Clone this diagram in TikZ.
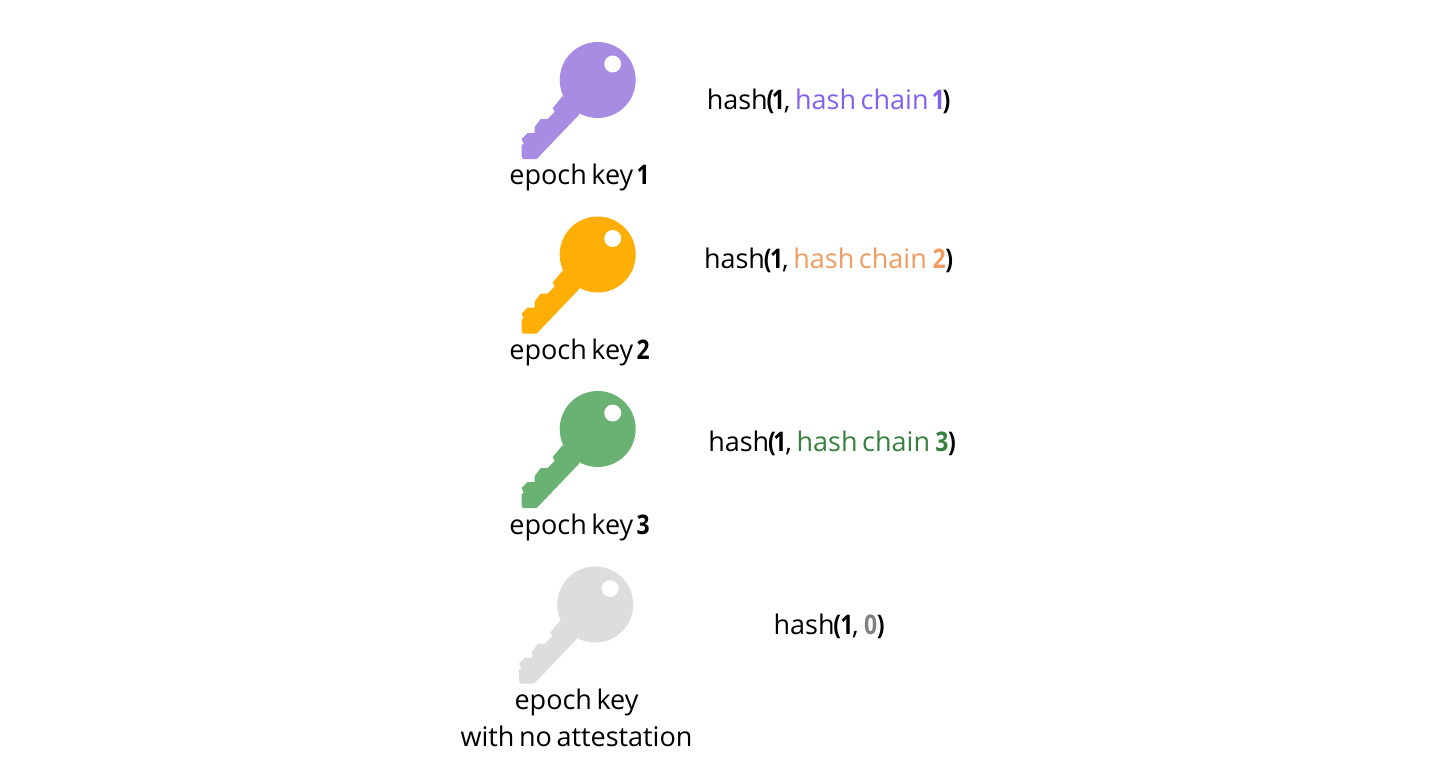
\documentclass[tikz,border=0pt]{standalone}
\usepackage{fontspec}
\setmainfont{Open Sans}
\definecolor{keypurple}{HTML}{A88CE3}
\definecolor{keyorange}{HTML}{FFAE06}
\definecolor{keygreen}{HTML}{69B273}
\definecolor{keygrey}{HTML}{DDDDDD}
\definecolor{txtpurple}{HTML}{8360F0}
\definecolor{txtorange}{HTML}{F29B61}
\definecolor{txtgreen}{HTML}{38803F}
\definecolor{txtgrey}{HTML}{808080}
\newcommand{\bd}[1]{\kern-1.2pt\scalebox{0.85}[1]{\bfseries #1}\kern-1.2pt}
\newcommand{\wsp}{\spaceskip=0.17em\relax}
\tikzset{
  x=1pt,y=-1pt,
  label text/.style={inner sep=0pt,font=\fontsize{27}{36}\selectfont,align=center,text=black,anchor=base},
  pics/epochkey/.style={code={
    \fill[#1] (-35,16) -- (-45,28) -- (-43,32) -- (-50,39) -- (-57,39) -- (-63,47) -- (-63,53) -- (-70,53) -- (-76,59) -- (-74,64) -- (-76,65) -- (-76,76) -- (-75,79) -- (-61,79) -- (-18,34) -- cycle;
    \fill[#1] (0,0) circle (38);
    \fill[white] (15,-16) circle (8.5);
  }}
}
\begin{document}
\begin{tikzpicture}
\useasboundingbox (0,0) rectangle (1448,772);
\pic at (597.7,80) {epochkey=keypurple};
\pic at (597.7,254.5) {epochkey=keyorange};
\pic at (597.7,429) {epochkey=keygreen};
\pic at (595.2,604.5) {epochkey=keygrey};
\node[label text] (k1) at (579,184) {\wsp epoch key \bd{1}};
\node[label text] (k2) at (579,359) {\wsp epoch key \bd{2}};
\node[label text] (k3) at (579,534) {\wsp epoch key \bd{3}};
\node[label text] (k4) at (576.5,746) {\wsp epoch key\\[1pt]\wsp with no attestation};
\node[label text] (h1) at (828,109) {\wsp hash\bd{(}\bd{1}, \textcolor{txtpurple}{hash chain \bd{1}}\bd{)}};
\node[label text] (h2) at (828,268) {\wsp hash\bd{(}\kern1pt\bd{1}, \textcolor{txtorange}{hash chain \kern2.5pt\bd{2}}\kern2pt\bd{)}};
\node[label text] (h3) at (831.5,451) {\wsp hash\bd{(}\bd{1}, \textcolor{txtgreen}{hash chain \kern2pt\bd{3}}\kern2pt\bd{)}};
\node[label text] (h4) at (828.5,634) {\wsp hash\bd{(}\kern1.5pt\bd{1}, \kern2pt\textcolor{txtgrey}{\bd{0}}\kern2pt\bd{)}};
\end{tikzpicture}
\end{document}
